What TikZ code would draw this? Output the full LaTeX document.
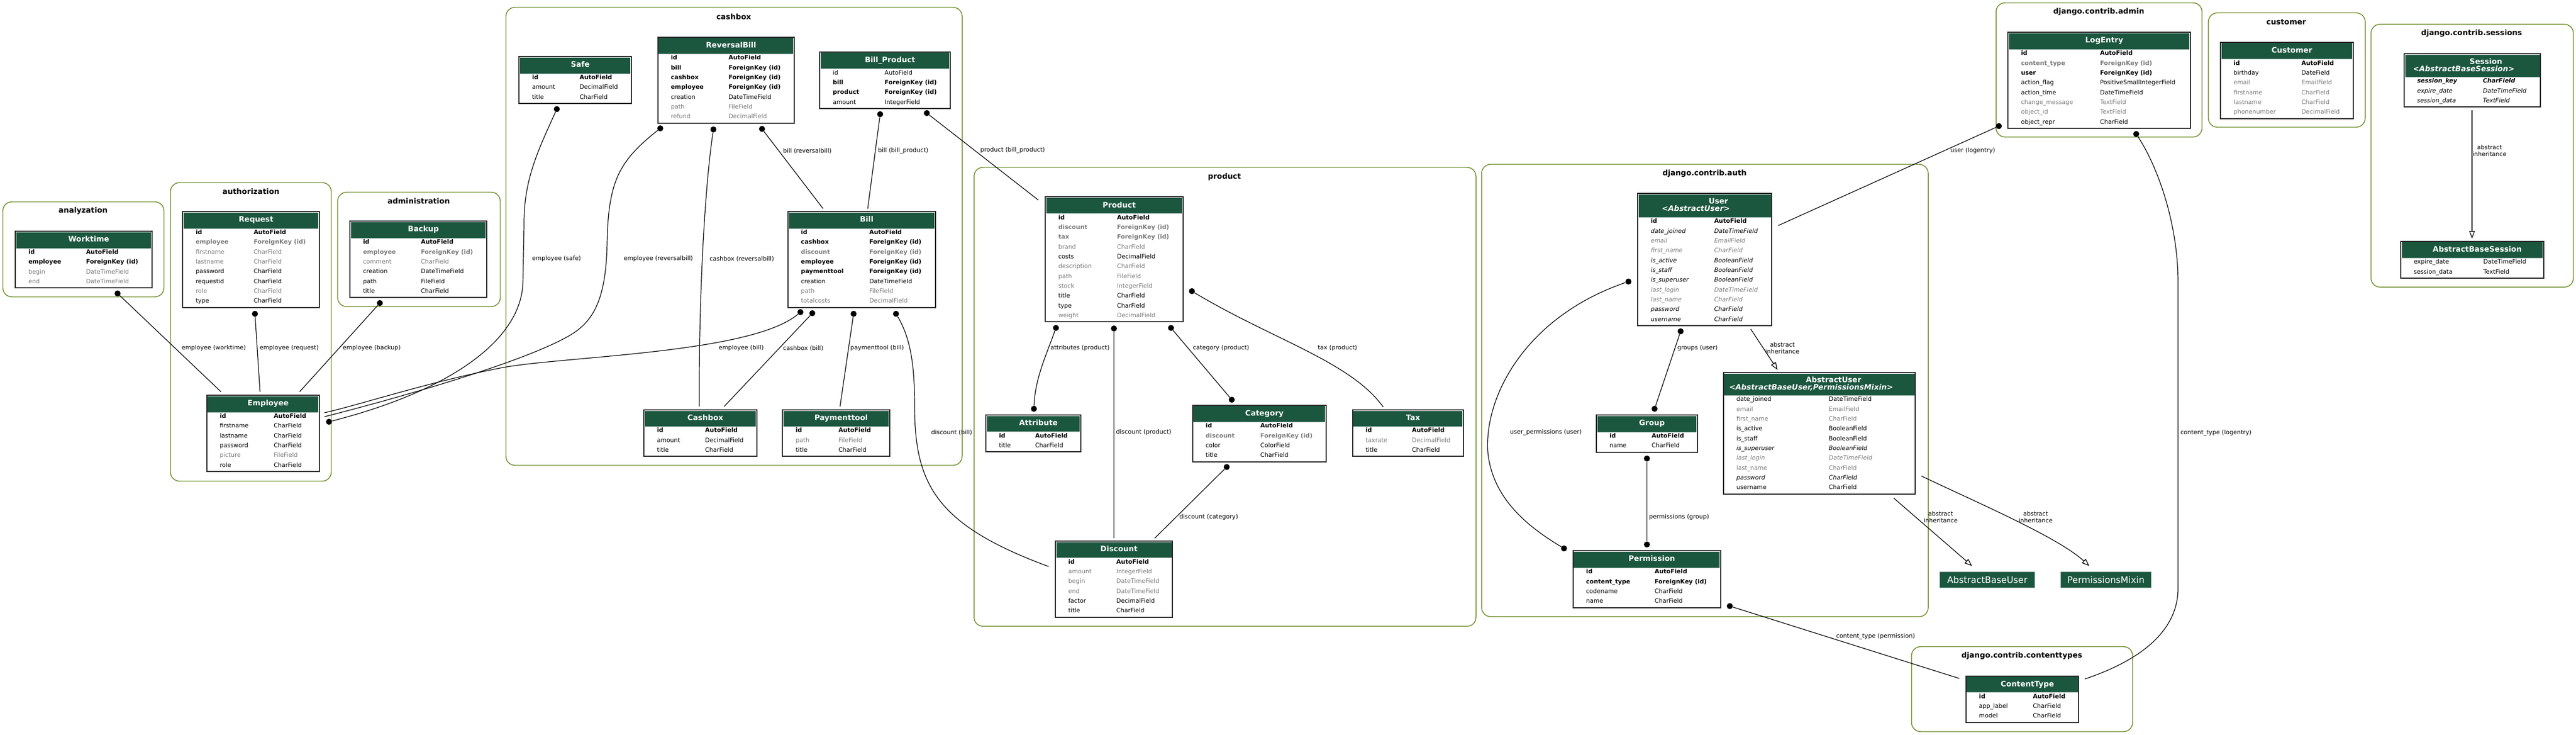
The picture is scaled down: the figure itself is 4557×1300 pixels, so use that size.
\documentclass[tikz,border=0pt]{standalone}
\usepackage{fontspec}
\setmainfont{DejaVu Sans}[BoldFont={DejaVu Sans Bold},ItalicFont={DejaVu Sans Oblique},BoldItalicFont={DejaVu Sans Bold Oblique}]
\usetikzlibrary{fit,arrows.meta}
\definecolor{hdrgreen}{HTML}{1B563F}
\definecolor{clgreen}{HTML}{6E8F2A}
\definecolor{greytext}{HTML}{7B7B7B}
\definecolor{tblline}{HTML}{2A2A2A}
\newcommand\rf{\fontsize{8}{9.6}\selectfont}
\newcommand\tf{\fontsize{10}{12}\selectfont}
\tikzset{
  clusterbox/.style={draw=clgreen, line width=1.1bp, rounded corners=12bp, inner sep=0pt},
  cltitle/.style={font=\tf\bfseries, inner sep=0pt, anchor=center},
  tblbox/.style={draw=tblline, line width=1.5bp, fill=white, inner sep=0pt},
  ttitle/.style={font=\tf\bfseries, text=white, inner sep=0pt, anchor=base},
  ttitlei/.style={font=\tf\bfseries\itshape, text=white, inner sep=0pt, anchor=base},
  fcell/.style={inner sep=0pt, anchor=base west},
  fn/.style={fcell, font=\rf},
  fb/.style={fcell, font=\rf\bfseries},
  fg/.style={fcell, font=\rf, text=greytext},
  fgb/.style={fcell, font=\rf\bfseries, text=greytext},
  fi/.style={fcell, font=\rf\itshape},
  fgi/.style={fcell, font=\rf\itshape, text=greytext},
  fbi/.style={fcell, font=\rf\bfseries\itshape},
  conn/.style={draw=black, line width=0.9bp},
  inh/.style={conn, -{Triangle[open, length=10bp, width=7.5bp]}},
  dotn/.style={circle, fill=black, inner sep=0pt, minimum size=8bp},
  elabel/.style={font=\rf, inner sep=0pt, anchor=west},
  ilabel/.style={font=\fontsize{8}{9}\selectfont, inner sep=0pt, align=center, anchor=center},
  absbox/.style={fill=hdrgreen, draw=hdrgreen!55!white, line width=0.6bp, text=white, font=\fontsize{12}{14}\selectfont, inner sep=0pt},
  hdrsep/.style={draw=hdrgreen!45!white, line width=0.6bp},
}
% #1 name, #2 L, #3 T, #4 R, #5 header height, #6 rows, #7 type column x, #8 title
\newcommand\dtable[8]{%
  \pgfmathsetmacro\tB{#3+#5+17.33*#6+1}%
  \pgfmathsetmacro\tHB{#3+#5}%
  \def\tL{#2}\def\tTX{#7}%
  \node[tblbox, fit={(#2,#3) (#4,\tB)}] (#1) {};%
  \fill[hdrgreen] (#2+1.8,#3+1.8) rectangle (#4-1.8,\tHB);%
  \draw[hdrsep] (#2+1.8,\tHB) -- (#4-1.8,\tHB);%
  \node[ttitle] (#1-title) at ({(#2+#4)/2+9}, #3+18.6) {#8};%
}
\newcommand\drow[5]{%
  \node[#3] (#1-f#2) at (\tL+23, \tHB+10.5+17.33*#2) {#4};%
  \node[#3] (#1-t#2) at (\tTX, \tHB+10.5+17.33*#2) {#5};%
}
\newcommand\dcluster[8]{%
  \node[clusterbox, fit={(#2,#3) (#4,#5)}] (#1) {};%
  \node[cltitle] (#1-label) at (#6,#7) {#8};%
}
\begin{document}
\begin{tikzpicture}[x=0.75bp, y=-0.75bp]
\fill[white] (0,0) rectangle (4557,1300);
\useasboundingbox (0,0) rectangle (4557,1300);

% ---------------- clusters
\dcluster{cl-analyzation}{5}{357}{290}{525}{147}{373}{analyzation}
\dcluster{cl-authorization}{301.6}{323}{586}{851}{444}{339}{authorization}
\dcluster{cl-administration}{597.3}{340}{885}{542.3}{740.7}{356}{administration}
\dcluster{cl-cashbox}{895}{13}{1702}{823}{1298}{30}{cashbox}
\dcluster{cl-product}{1723}{296}{2611}{1107.7}{2166}{312.7}{product}
\dcluster{cl-auth}{2621}{290.7}{3411}{1090.7}{3015.4}{306.7}{django.contrib.auth}
\dcluster{cl-admin}{3531}{5}{3895.4}{242.3}{3712.8}{21.3}{django.contrib.admin}
\dcluster{cl-customer}{3906.6}{22.7}{4184}{225}{4044.4}{39}{customer}
\dcluster{cl-sessions}{4194.3}{42.9}{4552.3}{507.8}{4372.3}{58.6}{django.contrib.sessions}
\dcluster{cl-contenttypes}{3381.5}{1143.75}{3772.6}{1294}{3576.7}{1160.3}{django.contrib.contenttypes}

% ---------------- dots (relation ends)
\node[dotn] (wt-d) at (208,519) {};
\node[dotn] (rq-d) at (451,555) {};
\node[dotn] (bk-d) at (672,536) {};
\node[dotn] (sf-d) at (985,193) {};
\node[dotn] (em-ds) at (582,746) {};
\node[dotn] (rb-de) at (1168,227) {};
\node[dotn] (rb-dc) at (1262,229) {};
\node[dotn] (rb-db) at (1348,228) {};
\node[dotn] (bp-db) at (1557,202) {};
\node[dotn] (bp-dp) at (1639.5,200) {};
\node[dotn] (bl-de) at (1416,552) {};
\node[dotn] (bl-dc) at (1437,554) {};
\node[dotn] (bl-dp) at (1510,555) {};
\node[dotn] (bl-dd) at (1585,555) {};
\node[dotn] (pr-da) at (1868,580) {};
\node[dotn] (pr-dd) at (1970.6,581) {};
\node[dotn] (pr-dc) at (2071.5,580) {};
\node[dotn] (pr-dt) at (2108.5,515) {};
\node[dotn] (at-d) at (1829,723) {};
\node[dotn] (ca-dp) at (2179,707) {};
\node[dotn] (ca-dd) at (2170,826) {};
\node[dotn] (us-dg) at (2973,586) {};
\node[dotn] (us-dp) at (2880.7,498) {};
\node[dotn] (gr-du) at (2927,723) {};
\node[dotn] (gr-dp) at (2913.4,811) {};
\node[dotn] (pm-dg) at (2913.4,963) {};
\node[dotn] (pm-du) at (2766.7,970) {};
\node[dotn] (pm-dc) at (3060,1072) {};
\node[dotn] (le-du) at (3536,223) {};
\node[dotn] (le-dc) at (3779,237) {};

% ---------------- free ends
\coordinate (em-e1) at (391,693);
\coordinate (em-e2) at (460,693);
\coordinate (em-e3) at (530,693);
\coordinate (em-e4) at (574,737);
\coordinate (em-e5) at (574,730);
\coordinate (bl-e1) at (1456,369);
\coordinate (bl-e2) at (1535,369);
\coordinate (pr-e1) at (1837,354);
\coordinate (cb-e1) at (1237,719);
\coordinate (cb-e2) at (1281,719);
\coordinate (pt-e1) at (1486,719);
\coordinate (dc-e1) at (1855,1002);
\coordinate (dc-e2) at (1970.6,952);
\coordinate (dc-e3) at (2042.7,952);
\coordinate (tx-e1) at (2447,720);
\coordinate (ct-e1) at (3466,1200);
\coordinate (ct-e2) at (3688,1201);
\coordinate (us-e1) at (3145.5,399);
\coordinate (us-i) at (3097,582);
\coordinate (au-i) at (3144.5,654);
\coordinate (au-i1) at (3350,881);
\coordinate (au-i2) at (3399,842);
\coordinate (abu-i) at (3488.6,1001);
\coordinate (pmx-i) at (3696,1001);
\coordinate (se-i) at (4373,195);
\coordinate (abs-i) at (4373,422);

% ---------------- connectors
\draw[conn] (wt-d) -- (em-e1);
\draw[conn] (rq-d) -- (em-e2);
\draw[conn] (bk-d) -- (em-e3);
\draw[conn] (sf-d) .. controls (950,270) and (926,320) .. (927,400) -- (925,500) .. controls (922,600) and (800,690) .. (em-ds);
\draw[conn] (rb-de) .. controls (1095,285) and (1076,320) .. (1074,430) .. controls (1072,520) and (1055,565) .. (1010,592) .. controls (930,640) and (700,705) .. (em-e4);
\draw[conn] (bl-de) .. controls (1330,625) and (1000,630) .. (890,650) .. controls (760,675) and (640,715) .. (em-e5);
\draw[conn] (rb-db) -- (bl-e1);
\draw[conn] (bp-db) -- (bl-e2);
\draw[conn] (bp-dp) -- (pr-e1);
\draw[conn] (rb-dc) .. controls (1247,330) and (1236,520) .. (cb-e1);
\draw[conn] (bl-dc) -- (cb-e2);
\draw[conn] (bl-dp) -- (pt-e1);
\draw[conn] (bl-dd) .. controls (1612,600) and (1618,650) .. (1618,720) .. controls (1618,860) and (1660,930) .. (dc-e1);
\draw[conn] (pr-da) .. controls (1850,630) and (1831,670) .. (at-d);
\draw[conn] (pr-dd) -- (dc-e2);
\draw[conn] (pr-dc) -- (ca-dp);
\draw[conn] (pr-dt) .. controls (2250,600) and (2390,640) .. (tx-e1);
\draw[conn] (ca-dd) -- (dc-e3);
\draw[conn] (us-dg) -- (gr-du);
\draw[conn] (us-dp) .. controls (2700,560) and (2625,700) .. (2632,800) .. controls (2640,880) and (2700,930) .. (pm-du);
\draw[conn] (gr-dp) -- (pm-dg);
\draw[conn] (pm-dc) -- (ct-e1);
\draw[conn] (le-du) -- (us-e1);
\draw[conn] (le-dc) .. controls (3820,300) and (3853,400) .. (3853,500) -- (3853,1040) .. controls (3853,1120) and (3780,1170) .. (ct-e2);
\draw[inh] (us-i) -- (au-i);
\draw[inh] (au-i1) -- (abu-i);
\draw[inh] (au-i2) .. controls (3500,890) and (3640,950) .. (pmx-i);
\draw[inh] (se-i) -- (abs-i);

% ---------------- tables
\dtable{worktime}{27}{409}{269}{30}{4}{152}{Worktime}
\drow{worktime}{0}{fb}{id}{AutoField}
\drow{worktime}{1}{fb}{employee}{ForeignKey (id)}
\drow{worktime}{2}{fg}{begin}{DateTimeField}
\drow{worktime}{3}{fg}{end}{DateTimeField}

\dtable{request}{323}{374}{565}{30}{8}{448.5}{Request}
\drow{request}{0}{fb}{id}{AutoField}
\drow{request}{1}{fgb}{employee}{ForeignKey (id)}
\drow{request}{2}{fg}{firstname}{CharField}
\drow{request}{3}{fg}{lastname}{CharField}
\drow{request}{4}{fn}{password}{CharField}
\drow{request}{5}{fn}{requestid}{CharField}
\drow{request}{6}{fg}{role}{CharField}
\drow{request}{7}{fn}{type}{CharField}

\dtable{employee}{365.5}{699}{565}{30}{6}{484}{Employee}
\drow{employee}{0}{fb}{id}{AutoField}
\drow{employee}{1}{fn}{firstname}{CharField}
\drow{employee}{2}{fn}{lastname}{CharField}
\drow{employee}{3}{fn}{password}{CharField}
\drow{employee}{4}{fg}{picture}{FileField}
\drow{employee}{5}{fn}{role}{CharField}

\dtable{backup}{619}{391.3}{861}{30}{6}{744.3}{Backup}
\drow{backup}{0}{fb}{id}{AutoField}
\drow{backup}{1}{fgb}{employee}{ForeignKey (id)}
\drow{backup}{2}{fg}{comment}{CharField}
\drow{backup}{3}{fn}{creation}{DateTimeField}
\drow{backup}{4}{fn}{path}{FileField}
\drow{backup}{5}{fn}{title}{CharField}

\dtable{safe}{918}{100}{1117}{30}{3}{1025}{Safe}
\drow{safe}{0}{fb}{id}{AutoField}
\drow{safe}{1}{fn}{amount}{DecimalField}
\drow{safe}{2}{fn}{title}{CharField}

\dtable{reversalbill}{1163.5}{65.7}{1405}{29.6}{7}{1288.5}{ReversalBill}
\drow{reversalbill}{0}{fb}{id}{AutoField}
\drow{reversalbill}{1}{fb}{bill}{ForeignKey (id)}
\drow{reversalbill}{2}{fb}{cashbox}{ForeignKey (id)}
\drow{reversalbill}{3}{fb}{employee}{ForeignKey (id)}
\drow{reversalbill}{4}{fn}{creation}{DateTimeField}
\drow{reversalbill}{5}{fg}{path}{FileField}
\drow{reversalbill}{6}{fg}{refund}{DecimalField}

\dtable{billproduct}{1450}{91.7}{1681}{30}{4}{1564.7}{Bill\_Product}
\drow{billproduct}{0}{fn}{id}{AutoField}
\drow{billproduct}{1}{fb}{bill}{ForeignKey (id)}
\drow{billproduct}{2}{fb}{product}{ForeignKey (id)}
\drow{billproduct}{3}{fn}{amount}{IntegerField}

\dtable{bill}{1393.7}{374.3}{1654.6}{29.7}{8}{1537.5}{Bill}
\drow{bill}{0}{fb}{id}{AutoField}
\drow{bill}{1}{fb}{cashbox}{ForeignKey (id)}
\drow{bill}{2}{fgb}{discount}{ForeignKey (id)}
\drow{bill}{3}{fb}{employee}{ForeignKey (id)}
\drow{bill}{4}{fb}{paymenttool}{ForeignKey (id)}
\drow{bill}{5}{fn}{creation}{DateTimeField}
\drow{bill}{6}{fg}{path}{FileField}
\drow{bill}{7}{fg}{totalcosts}{DecimalField}

\dtable{cashboxtbl}{1139}{725}{1338.7}{29.3}{3}{1247.2}{Cashbox}
\drow{cashboxtbl}{0}{fb}{id}{AutoField}
\drow{cashboxtbl}{1}{fn}{amount}{DecimalField}
\drow{cashboxtbl}{2}{fn}{title}{CharField}

\dtable{paymenttool}{1384.3}{725}{1573.6}{29.3}{3}{1483}{Paymenttool}
\drow{paymenttool}{0}{fb}{id}{AutoField}
\drow{paymenttool}{1}{fg}{path}{FileField}
\drow{paymenttool}{2}{fn}{title}{CharField}

\dtable{producttbl}{1849}{348.5}{2092.6}{29.3}{11}{1975.8}{Product}
\drow{producttbl}{0}{fb}{id}{AutoField}
\drow{producttbl}{1}{fgb}{discount}{ForeignKey (id)}
\drow{producttbl}{2}{fgb}{tax}{ForeignKey (id)}
\drow{producttbl}{3}{fg}{brand}{CharField}
\drow{producttbl}{4}{fn}{costs}{DecimalField}
\drow{producttbl}{5}{fg}{description}{CharField}
\drow{producttbl}{6}{fg}{path}{FileField}
\drow{producttbl}{7}{fg}{stock}{IntegerField}
\drow{producttbl}{8}{fn}{title}{CharField}
\drow{producttbl}{9}{fn}{type}{CharField}
\drow{producttbl}{10}{fg}{weight}{DecimalField}

\dtable{attribute}{1744}{734}{1912}{29.6}{2}{1831}{Attribute}
\drow{attribute}{0}{fb}{id}{AutoField}
\drow{attribute}{1}{fn}{title}{CharField}

\dtable{category}{2109.6}{716.6}{2346}{29.7}{4}{2229.4}{Category}
\drow{category}{0}{fb}{id}{AutoField}
\drow{category}{1}{fgb}{discount}{ForeignKey (id)}
\drow{category}{2}{fn}{color}{ColorField}
\drow{category}{3}{fn}{title}{CharField}

\dtable{tax}{2392.5}{725}{2589}{29.2}{3}{2497.6}{Tax}
\drow{tax}{0}{fb}{id}{AutoField}
\drow{tax}{1}{fg}{taxrate}{DecimalField}
\drow{tax}{2}{fn}{title}{CharField}

\dtable{discount}{1866.7}{957.3}{2074.4}{29.4}{6}{1974.7}{Discount}
\drow{discount}{0}{fb}{id}{AutoField}
\drow{discount}{1}{fg}{amount}{IntegerField}
\drow{discount}{2}{fg}{begin}{DateTimeField}
\drow{discount}{3}{fg}{end}{DateTimeField}
\drow{discount}{4}{fn}{factor}{DecimalField}
\drow{discount}{5}{fn}{title}{CharField}

\dtable{user}{2897}{342.3}{3134.3}{42}{11}{3032.2}{}
\node[ttitle] (user-l1) at (3040,361) {User};
\node[ttitlei] (user-l2) at (3000,374) {<AbstractUser>};
\drow{user}{0}{fb}{id}{AutoField}
\drow{user}{1}{fi}{date\_joined}{DateTimeField}
\drow{user}{2}{fgi}{email}{EmailField}
\drow{user}{3}{fgi}{first\_name}{CharField}
\drow{user}{4}{fi}{is\_active}{BooleanField}
\drow{user}{5}{fi}{is\_staff}{BooleanField}
\drow{user}{6}{fi}{is\_superuser}{BooleanField}
\drow{user}{7}{fgi}{last\_login}{DateTimeField}
\drow{user}{8}{fgi}{last\_name}{CharField}
\drow{user}{9}{fi}{password}{CharField}
\drow{user}{10}{fi}{username}{CharField}

\dtable{group}{2824}{733.7}{3002.7}{30.3}{2}{2921.5}{Group}
\drow{group}{0}{fb}{id}{AutoField}
\drow{group}{1}{fn}{name}{CharField}

\dtable{abstractuser}{3048.6}{658.7}{3388.4}{40.6}{10}{3234.8}{}
\node[ttitle] (abstractuser-l1) at (3243.5,676.2) {AbstractUser};
\node[ttitlei] (abstractuser-l2) at (3204,689.6) {<AbstractBaseUser,PermissionsMixin>};
\drow{abstractuser}{0}{fn}{date\_joined}{DateTimeField}
\drow{abstractuser}{1}{fg}{email}{EmailField}
\drow{abstractuser}{2}{fg}{first\_name}{CharField}
\drow{abstractuser}{3}{fn}{is\_active}{BooleanField}
\drow{abstractuser}{4}{fn}{is\_staff}{BooleanField}
\drow{abstractuser}{5}{fi}{is\_superuser}{BooleanField}
\drow{abstractuser}{6}{fgi}{last\_login}{DateTimeField}
\drow{abstractuser}{7}{fg}{last\_name}{CharField}
\drow{abstractuser}{8}{fi}{password}{CharField}
\drow{abstractuser}{9}{fn}{username}{CharField}

\dtable{permission}{2782.6}{974.3}{3043.5}{30}{4}{2926.8}{Permission}
\drow{permission}{0}{fb}{id}{AutoField}
\drow{permission}{1}{fb}{content\_type}{ForeignKey (id)}
\drow{permission}{2}{fn}{codename}{CharField}
\drow{permission}{3}{fn}{name}{CharField}

\dtable{contenttype}{3477.6}{1195.5}{3677.3}{29}{3}{3596}{ContentType}
\drow{contenttype}{0}{fb}{id}{AutoField}
\drow{contenttype}{1}{fn}{app\_label}{CharField}
\drow{contenttype}{2}{fn}{model}{CharField}

\dtable{logentry}{3552}{57.3}{3875}{30}{8}{3714.8}{LogEntry}
\drow{logentry}{0}{fb}{id}{AutoField}
\drow{logentry}{1}{fgb}{content\_type}{ForeignKey (id)}
\drow{logentry}{2}{fb}{user}{ForeignKey (id)}
\drow{logentry}{3}{fn}{action\_flag}{PositiveSmallIntegerField}
\drow{logentry}{4}{fn}{action\_time}{DateTimeField}
\drow{logentry}{5}{fg}{change\_message}{TextField}
\drow{logentry}{6}{fg}{object\_id}{TextField}
\drow{logentry}{7}{fn}{object\_repr}{CharField}

\dtable{customertbl}{3928}{74.7}{4162.8}{30}{6}{4071}{Customer}
\drow{customertbl}{0}{fb}{id}{AutoField}
\drow{customertbl}{1}{fn}{birthday}{DateField}
\drow{customertbl}{2}{fg}{email}{EmailField}
\drow{customertbl}{3}{fg}{firstname}{CharField}
\drow{customertbl}{4}{fg}{lastname}{CharField}
\drow{customertbl}{5}{fg}{phonenumber}{DecimalField}

\dtable{session}{4252.7}{95}{4494.3}{41.2}{3}{4392}{}
\node[ttitle] (session-l1) at (4397.7,113.2) {Session};
\node[ttitlei] (session-l2) at (4358.3,126.2) {<AbstractBaseSession>};
\drow{session}{0}{fbi}{session\_key}{CharField}
\drow{session}{1}{fi}{expire\_date}{DateTimeField}
\drow{session}{2}{fi}{session\_data}{TextField}

\dtable{abstractbasesession}{4246.7}{426.7}{4500}{29.5}{2}{4392.7}{AbstractBaseSession}
\drow{abstractbasesession}{0}{fn}{expire\_date}{DateTimeField}
\drow{abstractbasesession}{1}{fn}{session\_data}{TextField}

% ---------------- abstract bases outside the clusters
\node[absbox, minimum width=125.5bp, minimum height=21.1bp] (abstractbaseuser) at (3515.5,1025.25) {AbstractBaseUser};
\node[absbox, minimum width=120.5bp, minimum height=21.1bp] (permissionsmixin) at (3725.35,1025.25) {PermissionsMixin};

% ---------------- connector labels
\node[elabel] (lb-wt) at (321,616) {employee (worktime)};
\node[elabel] (lb-rq) at (459,616) {employee (request)};
\node[elabel] (lb-bk) at (606,616) {employee (backup)};
\node[elabel] (lb-sf) at (941,458) {employee (safe)};
\node[elabel] (lb-rbe) at (1103,458) {employee (reversalbill)};
\node[elabel] (lb-rbc) at (1255,458) {cashbox (reversalbill)};
\node[elabel] (lb-rbb) at (1385,267) {bill (reversalbill)};
\node[elabel] (lb-bpb) at (1553,267) {bill (bill\_product)};
\node[elabel] (lb-bpp) at (1734,266) {product (bill\_product)};
\node[elabel] (lb-ble) at (1271,616) {employee (bill)};
\node[elabel] (lb-blc) at (1385,616) {cashbox (bill)};
\node[elabel] (lb-blp) at (1504,616) {paymenttool (bill)};
\node[elabel] (lb-bld) at (1647,765) {discount (bill)};
\node[elabel] (lb-pra) at (1858,616) {attributes (product)};
\node[elabel] (lb-prc) at (2110,616) {category (product)};
\node[elabel] (lb-prt) at (2331,616) {tax (product)};
\node[elabel] (lb-prd) at (1974,765) {discount (product)};
\node[elabel] (lb-cad) at (2086,915) {discount (category)};
\node[elabel] (lb-usg) at (2967,616) {groups (user)};
\node[elabel] (lb-usp) at (2671,765) {user\_permissions (user)};
\node[elabel] (lb-grp) at (2917,915) {permissions (group)};
\node[elabel] (lb-pmc) at (3248,1126) {content\_type (permission)};
\node[elabel] (lb-leu) at (3450,267) {user (logentry)};
\node[elabel] (lb-lec) at (3857,766) {content\_type (logentry)};
\node[ilabel] (lb-i1) at (3153,616) {abstract\\inheritance};
\node[ilabel] (lb-i2) at (3433,915) {abstract\\inheritance};
\node[ilabel] (lb-i3) at (3601,915) {abstract\\inheritance};
\node[ilabel] (lb-i4) at (4404,267) {abstract\\inheritance};
\end{tikzpicture}
\end{document}
